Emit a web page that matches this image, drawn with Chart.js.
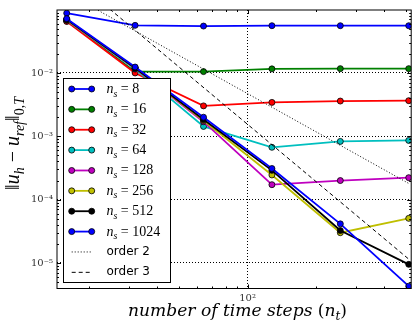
<!DOCTYPE html>
<html>
<head>
<meta charset="utf-8">
<script src="https://cdn.jsdelivr.net/npm/chart.js@4/dist/chart.umd.min.js"></script>
<style>
html, body { margin: 0; padding: 0; background: #fff; }
#wrap { width: 416px; height: 324px; }
</style>
</head>
<body>
<div id="wrap"><canvas id="myChart" width="416" height="324"></canvas></div>
<script>
// data (log-log convergence plot)
const timeSteps = [16, 32, 64, 128, 256, 512];
const spaceSteps = ['8', '16', '32', '64', '128', '256', '512', '1024'];
const err8 = [0.088, 0.0564, 0.055, 0.0557, 0.0557, 0.0557];
const err16 = [0.066, 0.0105, 0.0105, 0.0116, 0.0117, 0.0117];
const err32 = [0.065, 0.0100, 0.00302, 0.00343, 0.0036, 0.00365];
const err64 = [0.068, 0.0115, 0.00143, 0.00067, 0.00083, 0.00086];
const err128 = [0.069, 0.0118, 0.0017, 0.000172, 0.0002, 0.000222];
const err256 = [0.069, 0.012, 0.00178, 0.000245, 0.000030, 0.0000506];
const err512 = [0.070, 0.012, 0.00184, 0.00029, 0.0000325, 0.0000095];
const err1024 = [0.072, 0.0124, 0.0020, 0.00031, 0.0000414, 0.0000043];
const orderSteps = [16, 512];
const order2 = [0.184, 0.00018];
const order3 = [0.377, 0.0000115];
const yTicks = [1e-5, 1e-4, 1e-3, 1e-2];
const xTicks = [100];

const seriesErrors = [err8, err16, err32, err64, err128, err256, err512, err1024];
const seriesColors = ['#0000ff', '#008000', '#ff0000', '#00bfbf', '#bf00bf', '#bfbf00', '#000000', '#0000ff'];

const serif = '"Liberation Serif", "DejaVu Serif", serif';
const titleSerif = '"DejaVu Serif", serif';
const sans = '"DejaVu Sans", sans-serif';
const supDigits = { '-': '\u207B', '0': '\u2070', '1': '\u00B9', '2': '\u00B2', '3': '\u00B3', '4': '\u2074', '5': '\u2075', '6': '\u2076', '7': '\u2077', '8': '\u2078', '9': '\u2079' };

function powLabel(v) {
    const e = String(Math.round(Math.log10(v)));
    return '10' + e.split('').map(c => supDigits[c]).join('');
}

function toPoints(xs, ys) {
    return xs.map((x, i) => ({ x: x, y: ys[i] }));
}

// small rich-text helper for sub/superscripts
function partFont(p, size, fam) {
    const s = p.sub ? size * 0.7 : size;
    return (p.it ? 'italic ' : '') + s.toFixed(2) + 'px ' + (fam || serif);
}
function richWidth(ctx, parts, size, fam) {
    let w = 0;
    parts.forEach(p => { ctx.font = partFont(p, size, fam); w += ctx.measureText(p.t).width; });
    return w;
}
function drawRich(ctx, parts, x, y, size, fam) {
    ctx.textAlign = 'left';
    ctx.textBaseline = 'alphabetic';
    parts.forEach(p => {
        ctx.font = partFont(p, size, fam);
        ctx.fillText(p.t, x, y + (p.sub ? size * 0.25 : 0));
        x += ctx.measureText(p.t).width;
    });
}
// pick a font size so the title spans about the same width as in the reference
function fitSize(ctx, parts, target, fam, maxSize) {
    const w10 = richWidth(ctx, parts, 10, fam);
    return Math.min(maxSize, 10 * target / w10);
}

const datasets = seriesErrors.map((vals, i) => ({
    label: 'n_s = ' + spaceSteps[i],
    data: toPoints(timeSteps, vals),
    borderColor: seriesColors[i],
    backgroundColor: seriesColors[i],
    borderWidth: 1.8,
    pointRadius: 3,
    pointBorderColor: '#000',
    pointBorderWidth: 0.8,
    pointBackgroundColor: seriesColors[i],
    order: 20 - i
}));
datasets.push({
    label: 'order 2',
    data: toPoints(orderSteps, order2),
    borderColor: '#000',
    borderWidth: 1,
    borderDash: [1, 2],
    pointRadius: 0,
    order: 2
});
datasets.push({
    label: 'order 3',
    data: toPoints(orderSteps, order3),
    borderColor: '#000',
    borderWidth: 1,
    borderDash: [4, 3],
    pointRadius: 0,
    order: 1
});

// frame, inward ticks, axis titles and legend (matplotlib look)
const decorPlugin = {
    id: 'decor',
    afterDatasetsDraw(chart) {
        const { ctx, chartArea: a, scales: { x, y } } = chart;
        ctx.save();
        ctx.strokeStyle = '#000';
        ctx.lineWidth = 1;
        ctx.beginPath();
        const xMinor = [], yMinor = [];
        for (let k = 1; k <= 2; k++) for (let m = 2; m <= 9; m++) xMinor.push(m * Math.pow(10, k));
        for (let k = -6; k <= -2; k++) for (let m = 2; m <= 9; m++) yMinor.push(m * Math.pow(10, k));
        const xt = [...xTicks.map(v => [v, 4]), ...xMinor.map(v => [v, 2])];
        const yt = [...yTicks.map(v => [v, 4]), ...yMinor.map(v => [v, 2])];
        xt.forEach(([v, len]) => {
            if (v < x.min || v > x.max) return;
            const px = Math.round(x.getPixelForValue(v)) + 0.5;
            ctx.moveTo(px, a.bottom); ctx.lineTo(px, a.bottom - len);
            ctx.moveTo(px, a.top); ctx.lineTo(px, a.top + len);
        });
        yt.forEach(([v, len]) => {
            if (v < y.min || v > y.max) return;
            const py = Math.round(y.getPixelForValue(v)) + 0.5;
            ctx.moveTo(a.left, py); ctx.lineTo(a.left + len, py);
            ctx.moveTo(a.right, py); ctx.lineTo(a.right - len, py);
        });
        ctx.stroke();
        ctx.strokeRect(a.left, a.top, a.right - a.left, a.bottom - a.top);
        ctx.restore();
    },
    afterDraw(chart) {
        const { ctx } = chart;
        ctx.save();
        ctx.fillStyle = '#000';

        // x title
        const xParts = [
            { t: 'number of time steps ', it: true },
            { t: '(' },
            { t: 'n', it: true },
            { t: 't', it: true, sub: true },
            { t: ')' }
        ];
        const xs = fitSize(ctx, xParts, 219, titleSerif, 18);
        const xw = richWidth(ctx, xParts, xs, titleSerif);
        drawRich(ctx, xParts, 237.5 - xw / 2, 316, xs, titleSerif);

        // y title
        const yParts = [
            { t: '\u2016' },
            { t: 'u', it: true },
            { t: 'h', it: true, sub: true },
            { t: ' \u2212 ' },
            { t: 'u', it: true },
            { t: 'ref', it: true, sub: true },
            { t: '\u2016' },
            { t: '0,', sub: true },
            { t: 'T', it: true, sub: true }
        ];
        const ys = fitSize(ctx, yParts, 123, serif, 20);
        const yw = richWidth(ctx, yParts, ys, serif);
        ctx.translate(19, 143.5);
        ctx.rotate(-Math.PI / 2);
        drawRich(ctx, yParts, -yw / 2, 0, ys, serif);
        ctx.restore();

        // legend
        ctx.save();
        const bx = 63.5, by = 78.5, bw = 107, bh = 204;
        ctx.fillStyle = '#fff';
        ctx.fillRect(bx, by, bw, bh);
        ctx.strokeStyle = '#000';
        ctx.lineWidth = 1;
        ctx.strokeRect(bx, by, bw, bh);
        const x1 = 71.7, x2 = 91.7, tx = 106.5;
        chart.data.datasets.forEach((ds, i) => {
            const cy = 89 + i * 20.37;
            ctx.save();
            ctx.strokeStyle = ds.borderColor;
            ctx.lineWidth = ds.borderWidth;
            ctx.setLineDash(ds.borderDash || []);
            ctx.beginPath();
            ctx.moveTo(x1, cy); ctx.lineTo(x2, cy);
            ctx.stroke();
            ctx.restore();
            if (ds.pointRadius > 0) {
                [x1, x2].forEach(px => {
                    ctx.beginPath();
                    ctx.arc(px, cy, ds.pointRadius, 0, Math.PI * 2);
                    ctx.fillStyle = ds.pointBackgroundColor;
                    ctx.fill();
                    ctx.lineWidth = ds.pointBorderWidth;
                    ctx.strokeStyle = '#000';
                    ctx.stroke();
                });
                ctx.fillStyle = '#000';
                drawRich(ctx, [
                    { t: 'n', it: true },
                    { t: 's', it: true, sub: true },
                    { t: ' = ' + spaceSteps[i] }
                ], tx, cy + 4, 14);
            } else {
                ctx.fillStyle = '#000';
                ctx.font = '12px ' + sans;
                ctx.textBaseline = 'middle';
                ctx.fillText(ds.label, tx, cy);
            }
        });
        ctx.restore();
    }
};

const tickFont = { family: '"DejaVu Serif", serif', size: 10 };

new Chart(document.getElementById('myChart').getContext('2d'), {
    type: 'line',
    data: { datasets: datasets },
    options: {
        responsive: false,
        animation: false,
        devicePixelRatio: 1,
        layout: { padding: { left: 0, top: 7.5, right: 3.5, bottom: 0 } },
        plugins: { legend: { display: false }, tooltip: { enabled: false } },
        elements: { line: { tension: 0 } },
        scales: {
            x: {
                type: 'logarithmic',
                min: 14.5,
                max: 525,
                afterBuildTicks: s => { s.ticks = xTicks.map(v => ({ value: v })); },
                afterFit: s => { s.height = 35.5; },
                grid: { color: '#000', lineWidth: 1, drawTicks: false },
                border: { display: false, dash: [1, 2] },
                ticks: { callback: v => powLabel(v), font: tickFont, color: '#333', padding: 4, maxRotation: 0, autoSkip: false }
            },
            y: {
                type: 'logarithmic',
                min: 3.95e-6,
                max: 0.0986,
                afterBuildTicks: s => { s.ticks = yTicks.map(v => ({ value: v })); },
                afterFit: s => { s.width = 57; },
                grid: { color: '#000', lineWidth: 1, drawTicks: false },
                border: { display: false, dash: [1, 2] },
                ticks: { callback: v => powLabel(v), font: tickFont, color: '#333', padding: 4, autoSkip: false }
            }
        }
    },
    plugins: [decorPlugin]
});
</script>
</body>
</html>
